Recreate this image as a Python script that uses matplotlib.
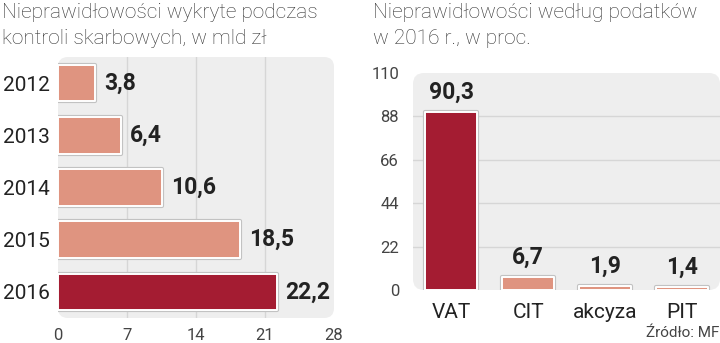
import matplotlib.pyplot as plt
from matplotlib.patches import FancyBboxPatch
import matplotlib.patheffects as pe

plt.rcParams['font.family'] = ['Roboto', 'DejaVu Sans']

# dane
years = ['2012', '2013', '2014', '2015', '2016']
amounts = [3.8, 6.4, 10.6, 18.5, 22.2]
amount_labels = ['3,8', '6,4', '10,6', '18,5', '22,2']
x_ticks = [0, 7, 14, 21, 28]

taxes = ['VAT', 'CIT', 'akcyza', 'PIT']
shares = [90.3, 6.7, 1.9, 1.4]
share_labels = ['90,3', '6,7', '1,9', '1,4']
y_ticks = [0, 22, 44, 66, 88, 110]

SALMON = '#df9480'
DARK = '#a41c32'
PANEL = '#eeeeee'
GRID = '#d6d6d6'
TXT = '#222222'

fig = plt.figure(figsize=(7.2, 3.43), dpi=100, facecolor='white')

bar_fx = [pe.Stroke(linewidth=3.0, foreground='#c2c2c2', joinstyle='round'),
          pe.Normal()]


def panel(ax, aspect):
    bg = FancyBboxPatch((0, 0), 1, 1, boxstyle='round,pad=0,rounding_size=0.036',
                        mutation_aspect=aspect, transform=ax.transAxes,
                        facecolor=PANEL, edgecolor='none', zorder=0, clip_on=False)
    ax.add_patch(bg)
    ax.set_facecolor('none')
    for s in ax.spines.values():
        s.set_visible(False)


# ---------------- lewy wykres ----------------
ax1 = fig.add_axes([58 / 720, 25 / 343, 276 / 720, 261 / 343])
panel(ax1, 276 / 261)
ypos = list(range(len(years)))
colors1 = [SALMON] * 4 + [DARK]
bars = ax1.barh(ypos, amounts, height=0.7, color=colors1, edgecolor='white',
                linewidth=1.4, zorder=3)
for b in bars:
    b.set_joinstyle('round')
    b.set_path_effects(bar_fx)
for y, v, lab in zip(ypos, amounts, amount_labels):
    ax1.annotate(lab, (v, y), xytext=(6, 0), textcoords='offset points',
                 ha='left', va='center', fontsize=16.5, fontweight='bold',
                 color=TXT, zorder=4)
ax1.set_xlim(0, 28)
ax1.set_ylim(4.5, -0.5)
ax1.set_xticks(x_ticks)
ax1.set_xticklabels([str(t) for t in x_ticks], fontsize=12, color='#444444')
ax1.set_yticks(ypos)
ax1.set_yticklabels(years, fontsize=15, color=TXT)
ax1.tick_params(axis='both', length=0)
ax1.tick_params(axis='x', pad=7)
ax1.tick_params(axis='y', pad=6)
for t in x_ticks[1:-1]:
    ax1.axvline(t, color=GRID, linewidth=1, zorder=1)

fig.text(2 / 720, 1 - 13 / 343, 'Nieprawidłowości wykryte podczas',
         fontsize=15, fontweight='light', color='#333333', va='center', ha='left')
fig.text(2 / 720, 1 - 39 / 343, 'kontroli skarbowych, w mld zł',
         fontsize=15, fontweight='light', color='#333333', va='center', ha='left')

# ---------------- prawy wykres ----------------
ax2 = fig.add_axes([413 / 720, 53 / 343, 307 / 720, 217 / 343])
panel(ax2, 307 / 217)
xpos = list(range(len(taxes)))
colors2 = [DARK, SALMON, SALMON, SALMON]
bars2 = ax2.bar(xpos, shares, width=0.68, color=colors2, edgecolor='white',
                linewidth=1.4, zorder=3)
for b in bars2:
    b.set_joinstyle('round')
    b.set_path_effects(bar_fx)
for x, v, lab in zip(xpos, shares, share_labels):
    ax2.annotate(lab, (x, v), xytext=(0, 6), textcoords='offset points',
                 ha='center', va='bottom', fontsize=16.5, fontweight='bold',
                 color=TXT, zorder=4)
ax2.set_xlim(-0.5, 3.5)
ax2.set_ylim(0, 110)
ax2.set_yticks(y_ticks)
ax2.set_yticklabels([str(t) for t in y_ticks], fontsize=12, color='#444444')
ax2.set_xticks(xpos)
ax2.set_xticklabels(taxes, fontsize=15, color=TXT)
ax2.tick_params(axis='both', length=0)
ax2.tick_params(axis='y', pad=10)
ax2.tick_params(axis='x', pad=9)
for t in y_ticks[1:-1]:
    ax2.axhline(t, color=GRID, linewidth=1, zorder=1)

fig.text(373 / 720, 1 - 13 / 343, 'Nieprawidłowości według podatków',
         fontsize=15, fontweight='light', color='#333333', va='center', ha='left')
fig.text(373 / 720, 1 - 39 / 343, 'w 2016 r., w proc.',
         fontsize=15, fontweight='light', color='#333333', va='center', ha='left')

fig.text(719 / 720, 1 - 333 / 343, 'Źródło: MF', fontsize=11, color='#444444',
         ha='right', va='center')

fig.savefig('out.png', dpi=100, facecolor='white')
